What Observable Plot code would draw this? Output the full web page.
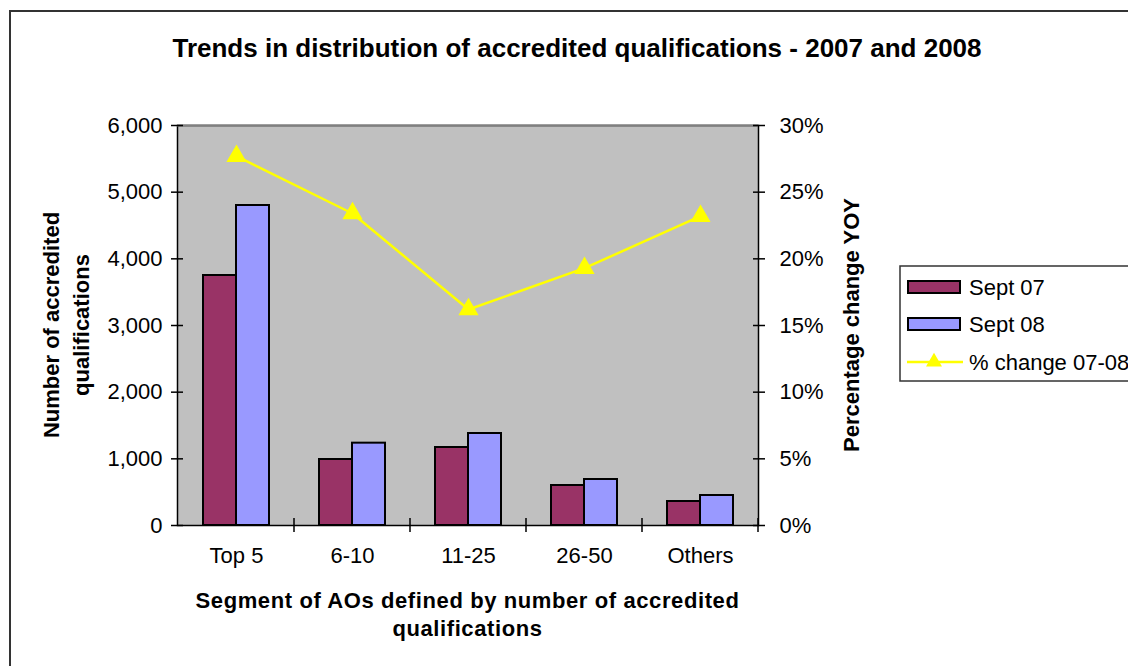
<!DOCTYPE html>
<html>
<head>
<meta charset="utf-8">
<script src="https://cdn.jsdelivr.net/npm/d3@7"></script>
<script src="https://cdn.jsdelivr.net/npm/@observablehq/plot@0.6"></script>
<style>
  html, body { margin: 0; padding: 0; background: #fff; }
  #chart svg { display: block; }
</style>
</head>
<body>
<div id="chart"></div>
<script>
// ---- Data ----
const categories = ["Top 5", "6-10", "11-25", "26-50", "Others"];
const sept07 = [3750, 990, 1170, 600, 360];
const sept08 = [4800, 1235, 1380, 690, 450];
const pctChange = [0.277, 0.234, 0.162, 0.193, 0.232];
const leftTicks = [0, 1000, 2000, 3000, 4000, 5000, 6000];
const rightTicks = [0, 0.05, 0.10, 0.15, 0.20, 0.25, 0.30];
const seriesNames = ["Sept 07", "Sept 08", "% change 07-08"];
const titleText = "Trends in distribution of accredited qualifications - 2007 and 2008";
const yTitleLines = ["Number of accredited", "qualifications"];
const y2Title = "Percentage change YOY";
const xTitleLines = ["Segment of AOs defined by number of accredited", "qualifications"];

// ---- Build table ----
const rows = categories.map((c, i) => ({cat: c, s07: sept07[i], s08: sept08[i], pct: pctChange[i]}));
const yMax = leftTicks[leftTicks.length - 1];
const pMax = rightTicks[rightTicks.length - 1];
const k = yMax / pMax; // map percent axis onto the count axis

const C07 = "#993366", C08 = "#9999FF", CLINE = "#FFFF00";
const FONT = "'Liberation Sans', Arial, sans-serif";

const W = 1128, H = 666;
const chart = Plot.plot({
  width: W, height: H,
  marginLeft: 177, marginRight: 370, marginTop: 125, marginBottom: 141,
  style: {fontFamily: FONT, fontSize: "22px", color: "#000", background: "#fff"},
  x: {domain: categories, padding: 0, axis: null},
  y: {domain: [0, yMax], axis: null},
  marks: [
    Plot.frame({fill: "#C0C0C0", stroke: "#000", strokeWidth: 1.5}),
    Plot.ruleY([yMax], {stroke: "#808080", strokeWidth: 2}),
    Plot.barY(rows, {x: "cat", y: "s07", fill: C07, stroke: "#000", strokeWidth: 2, insetLeft: 25, insetRight: 58}),
    Plot.barY(rows, {x: "cat", y: "s08", fill: C08, stroke: "#000", strokeWidth: 2, insetLeft: 58, insetRight: 25}),
    Plot.lineY(rows, {x: "cat", y: d => d.pct * k, stroke: CLINE, strokeWidth: 2.5}),
    Plot.dot(rows, {x: "cat", y: d => d.pct * k, symbol: "triangle", r: 7.5, fill: CLINE, stroke: null}),
    Plot.axisY({anchor: "left", ticks: leftTicks, tickFormat: d3.format(","), tickSize: 12, dx: 6, tickPadding: 9, stroke: "#000", strokeWidth: 1.5, label: null}),
    Plot.axisY({anchor: "right", ticks: rightTicks.map(p => p * k), tickFormat: v => d3.format(".0%")(v / k), tickSize: 12, dx: -6, tickPadding: 15, stroke: "#000", strokeWidth: 1.5, label: null}),
    Plot.axisX({anchor: "bottom", tickSize: 0, tickPadding: 22, label: null})
  ]
});
document.getElementById("chart").appendChild(chart);

// ---- Annotations placed with d3 using the chart's own scales ----
const svg = d3.select(chart);
const sx = chart.scale("x");
const sy = chart.scale("y");
const x0 = sx.range[0], x1 = sx.range[1];
const yTop = sy.apply(yMax), yBot = sy.apply(0);
const bw = sx.bandwidth;

// category separator ticks on the x axis
const gT = svg.append("g").attr("stroke", "#000").attr("stroke-width", 1.5);
categories.forEach(c => {
  const xe = sx.apply(c) + bw;
  gT.append("line").attr("x1", xe).attr("x2", xe).attr("y1", yBot - 7).attr("y2", yBot + 7);
});

// outer chart border
svg.append("rect").attr("x", 10).attr("y", 11).attr("width", 1400).attr("height", 900)
  .attr("fill", "none").attr("stroke", "#333").attr("stroke-width", 2);

// title
svg.append("text").attr("x", 577).attr("y", 57).attr("text-anchor", "middle")
  .attr("font-family", FONT).attr("font-weight", "bold").attr("font-size", 26)
  .text(titleText);

// left y title
const midY = (yTop + yBot) / 2;
const yt = svg.append("text").attr("transform", `translate(0,${midY}) rotate(-90)`)
  .attr("text-anchor", "middle").attr("font-family", FONT).attr("font-weight", "bold").attr("font-size", 22);
yt.append("tspan").attr("x", 0).attr("y", 59).text(yTitleLines[0]);
yt.append("tspan").attr("x", 0).attr("y", 89).text(yTitleLines[1]);

// right y title
svg.append("text").attr("transform", `translate(859,${midY}) rotate(-90)`)
  .attr("text-anchor", "middle").attr("font-family", FONT).attr("font-weight", "bold").attr("font-size", 22)
  .text(y2Title);

// x title
const midX = (x0 + x1) / 2;
const xt = svg.append("text").attr("text-anchor", "middle").attr("font-family", FONT)
  .attr("font-weight", "bold").attr("font-size", 22).attr("letter-spacing", 0.6);
xt.append("tspan").attr("x", midX).attr("y", 608).text(xTitleLines[0]);
xt.append("tspan").attr("x", midX).attr("y", 636).text(xTitleLines[1]);

// legend
const lg = svg.append("g").attr("font-family", FONT).attr("font-size", 22).attr("text-anchor", "start");
lg.append("rect").attr("x", 900).attr("y", 266).attr("width", 400).attr("height", 115)
  .attr("fill", "#fff").attr("stroke", "#333").attr("stroke-width", 1.5);
const swatchFill = [C07, C08];
[0, 1].forEach(i => {
  const cy = 287 + i * 37;
  lg.append("rect").attr("x", 908).attr("y", cy - 6).attr("width", 52).attr("height", 12)
    .attr("fill", swatchFill[i]).attr("stroke", "#000").attr("stroke-width", 2);
  lg.append("text").attr("x", 969).attr("y", cy).attr("dy", "0.35em").attr("text-anchor", "start").text(seriesNames[i]);
});
{
  const cy = 362;
  lg.append("line").attr("x1", 907).attr("x2", 963).attr("y1", cy).attr("y2", cy)
    .attr("stroke", CLINE).attr("stroke-width", 2.5);
  lg.append("path").attr("d", d3.symbol(d3.symbolTriangle, 110)())
    .attr("transform", `translate(934,${cy})`).attr("fill", CLINE);
  lg.append("text").attr("x", 969).attr("y", cy).attr("dy", "0.35em").attr("text-anchor", "start").text(seriesNames[2]);
}
</script>
</body>
</html>
